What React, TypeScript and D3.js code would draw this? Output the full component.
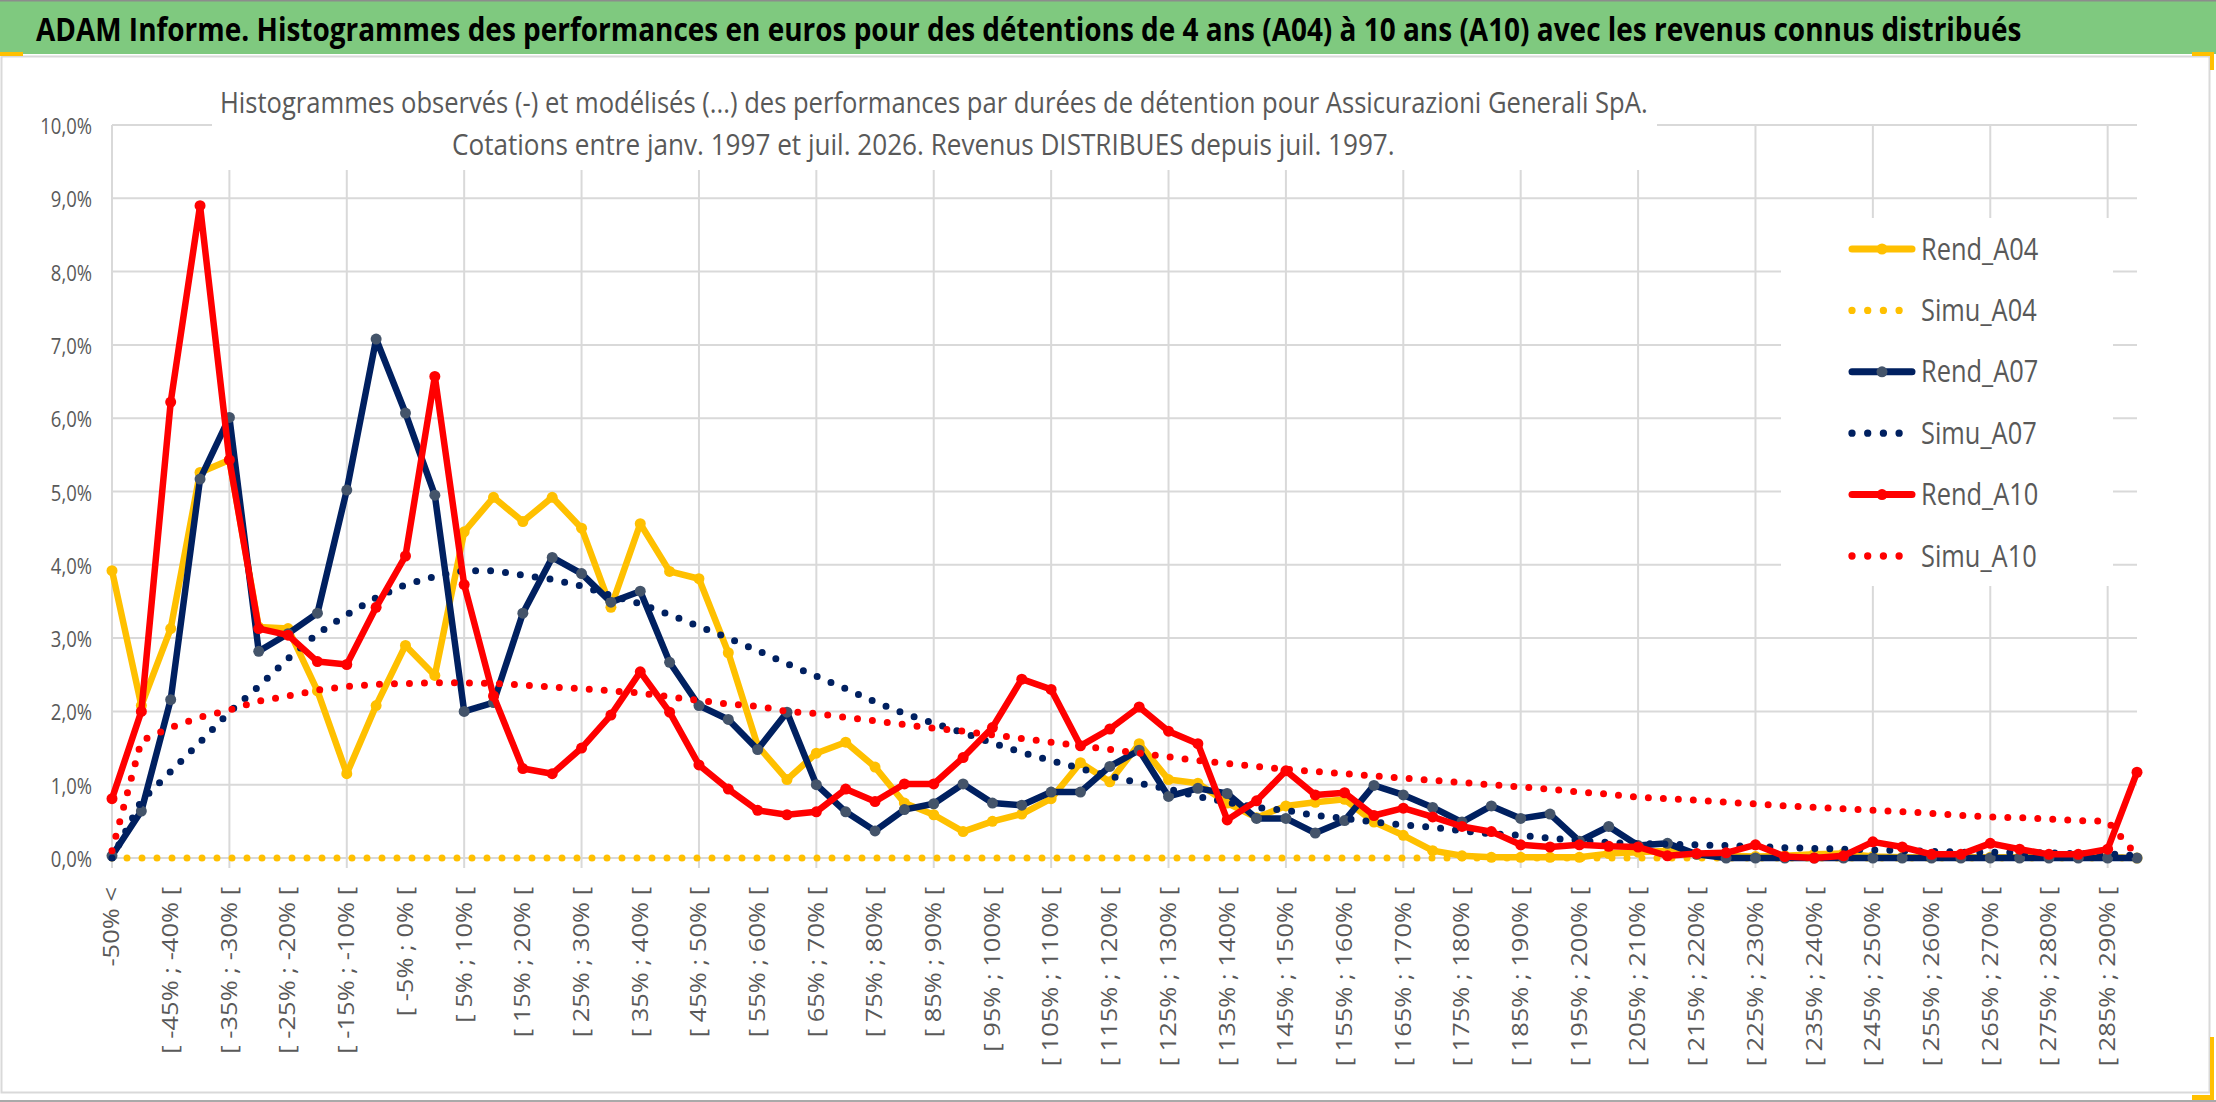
import { useLayoutEffect, useRef, useState } from "react";
import * as d3 from "d3";

const categories = [
  "-50% <", "[ -50% ; -45% [", "[ -45% ; -40% [", "[ -40% ; -35% [", "[ -35% ; -30% [",
  "[ -30% ; -25% [", "[ -25% ; -20% [", "[ -20% ; -15% [", "[ -15% ; -10% [", "[ -10% ; -5% [",
  "[ -5% ; 0% [", "[ 0% ; 5% [", "[ 5% ; 10% [", "[ 10% ; 15% [", "[ 15% ; 20% [",
  "[ 20% ; 25% [", "[ 25% ; 30% [", "[ 30% ; 35% [", "[ 35% ; 40% [", "[ 40% ; 45% [",
  "[ 45% ; 50% [", "[ 50% ; 55% [", "[ 55% ; 60% [", "[ 60% ; 65% [", "[ 65% ; 70% [",
  "[ 70% ; 75% [", "[ 75% ; 80% [", "[ 80% ; 85% [", "[ 85% ; 90% [", "[ 90% ; 95% [",
  "[ 95% ; 100% [", "[ 100% ; 105% [", "[ 105% ; 110% [", "[ 110% ; 115% [", "[ 115% ; 120% [",
  "[ 120% ; 125% [", "[ 125% ; 130% [", "[ 130% ; 135% [", "[ 135% ; 140% [", "[ 140% ; 145% [",
  "[ 145% ; 150% [", "[ 150% ; 155% [", "[ 155% ; 160% [", "[ 160% ; 165% [", "[ 165% ; 170% [",
  "[ 170% ; 175% [", "[ 175% ; 180% [", "[ 180% ; 185% [", "[ 185% ; 190% [", "[ 190% ; 195% [",
  "[ 195% ; 200% [", "[ 200% ; 205% [", "[ 205% ; 210% [", "[ 210% ; 215% [", "[ 215% ; 220% [",
  "[ 220% ; 225% [", "[ 225% ; 230% [", "[ 230% ; 235% [", "[ 235% ; 240% [", "[ 240% ; 245% [",
  "[ 245% ; 250% [", "[ 250% ; 255% [", "[ 255% ; 260% [", "[ 260% ; 265% [", "[ 265% ; 270% [",
  "[ 270% ; 275% [", "[ 275% ; 280% [", "[ 280% ; 285% [", "[ 285% ; 290% [", "[ 290% ; 295% [",
];

// values in %
const rendA04 = [
  3.92, 2.08, 3.13, 5.26, 5.43, 3.15, 3.13, 2.28, 1.15, 2.08,
  2.9, 2.49, 4.45, 4.92, 4.59, 4.92, 4.5, 3.42, 4.56, 3.91,
  3.81, 2.8, 1.53, 1.07, 1.43, 1.58, 1.24, 0.75, 0.59, 0.36,
  0.5, 0.6, 0.81, 1.3, 1.04, 1.56, 1.07, 1.02, 0.75, 0.55,
  0.71, 0.76, 0.8, 0.49, 0.31, 0.1, 0.03, 0.01, 0.01, 0.01,
  0.01, 0.06, 0.08, 0.1, 0.05, 0.03, 0.02, 0.03, 0.05, 0.06,
  0.02, 0.01, 0.01, 0.01, 0.01, 0.01, 0.01, 0.01, 0.01, 0.0,
];

const simuA04 = [
  0, 0, 0, 0, 0, 0, 0, 0, 0, 0,
  0, 0, 0, 0, 0, 0, 0, 0, 0, 0,
  0, 0, 0, 0, 0, 0, 0, 0, 0, 0,
  0, 0, 0, 0, 0, 0, 0, 0, 0, 0,
  0, 0, 0, 0, 0, 0, 0, 0, 0, 0,
  0, 0, 0, 0, 0, 0, 0, 0, 0, 0,
  0, 0, 0, 0, 0, 0, 0, 0, 0, 0,
];

const rendA07 = [
  0.03, 0.64, 2.16, 5.17, 6.01, 2.82, 3.06, 3.34, 5.02, 7.08,
  6.07, 4.95, 2.0, 2.12, 3.34, 4.1, 3.88, 3.49, 3.64, 2.67,
  2.08, 1.89, 1.48, 1.99, 1.0, 0.63, 0.37, 0.66, 0.74, 1.01,
  0.75, 0.72, 0.9, 0.9, 1.25, 1.47, 0.84, 0.95, 0.88, 0.54,
  0.54, 0.34, 0.51, 0.99, 0.86, 0.69, 0.49, 0.71, 0.54, 0.6,
  0.23, 0.43, 0.17, 0.2, 0.05, 0.0, 0.0, 0.0, 0.0, 0.0,
  0.0, 0.0, 0.0, 0.0, 0.0, 0.0, 0.0, 0.0, 0.0, 0.0,
];

const simuA07 = [
  0.0, 0.78, 1.18, 1.58, 1.99, 2.34, 2.72, 3.06, 3.32, 3.55,
  3.73, 3.84, 3.92, 3.92, 3.86, 3.8, 3.71, 3.58, 3.47, 3.32,
  3.16, 3.0, 2.83, 2.65, 2.48, 2.31, 2.13, 1.97, 1.84, 1.71,
  1.57, 1.44, 1.33, 1.22, 1.12, 1.02, 0.94, 0.84, 0.76, 0.69,
  0.65, 0.58, 0.54, 0.49, 0.45, 0.42, 0.37, 0.33, 0.31, 0.27,
  0.24, 0.21, 0.2, 0.19, 0.18, 0.17, 0.16, 0.14, 0.13, 0.12,
  0.11, 0.1, 0.09, 0.08, 0.08, 0.07, 0.07, 0.06, 0.06, 0.03,
];

const rendA10 = [
  0.81, 2.0, 6.22, 8.9, 5.43, 3.13, 3.04, 2.68, 2.64, 3.42,
  4.12, 6.57, 3.73, 2.21, 1.22, 1.15, 1.5, 1.95, 2.54, 1.99,
  1.27, 0.94, 0.65, 0.59, 0.63, 0.94, 0.77, 1.01, 1.01, 1.37,
  1.78, 2.44, 2.3, 1.53, 1.76, 2.06, 1.73, 1.56, 0.52, 0.78,
  1.19, 0.86, 0.89, 0.58, 0.68, 0.56, 0.43, 0.36, 0.18, 0.15,
  0.18, 0.16, 0.15, 0.03, 0.06, 0.07, 0.18, 0.02, 0.0, 0.03,
  0.22, 0.15, 0.05, 0.05, 0.2, 0.12, 0.05, 0.05, 0.12, 1.17,
];

const simuA10 = [
  0.1, 1.6, 1.78, 1.92, 2.02, 2.14, 2.21, 2.29, 2.34, 2.37,
  2.38, 2.39, 2.39, 2.38, 2.36, 2.33, 2.31, 2.28, 2.25, 2.2,
  2.15, 2.1, 2.07, 2.0, 1.97, 1.92, 1.87, 1.82, 1.77, 1.73,
  1.68, 1.63, 1.58, 1.53, 1.48, 1.43, 1.38, 1.33, 1.29, 1.25,
  1.21, 1.18, 1.15, 1.12, 1.09, 1.06, 1.03, 1.0, 0.97, 0.94,
  0.9, 0.87, 0.83, 0.81, 0.79, 0.76, 0.74, 0.71, 0.69, 0.67,
  0.65, 0.63, 0.61, 0.58, 0.56, 0.55, 0.53, 0.51, 0.5, 0.03,
];

const yTicks = [0, 1, 2, 3, 4, 5, 6, 7, 8, 9, 10];

const series = [
  { name: "Rend_A04", values: rendA04, color: "#FFC000", marker: "#FFC000", dotted: false },
  { name: "Simu_A04", values: simuA04, color: "#FFC000", marker: null, dotted: true },
  { name: "Rend_A07", values: rendA07, color: "#002060", marker: "#44546A", dotted: false },
  { name: "Simu_A07", values: simuA07, color: "#002060", marker: null, dotted: true },
  { name: "Rend_A10", values: rendA10, color: "#FF0000", marker: "#FF0000", dotted: false },
  { name: "Simu_A10", values: simuA10, color: "#FF0000", marker: null, dotted: true },
];

const W = 2216;
const H = 1102;
const plot = { left: 112, right: 2137, top: 125, bottom: 858 };
const grey = "#595959";
const gridColor = "#D9D9D9";
const font = "'Open Sans', sans-serif";

// squeezes a single line of text horizontally so it spans `width` px
function FitText({ x, y, width, size, weight = 400, fill, children }: any) {
  const ref = useRef<SVGTextElement>(null);
  const [k, setK] = useState(0.8);
  useLayoutEffect(() => {
    const len = ref.current?.getComputedTextLength() ?? 0;
    if (len > 0) setK(width / len);
  }, [width, children]);
  return (
    <text ref={ref} transform={`translate(${x},${y}) scale(${k},1)`} fontSize={size} fontWeight={weight} fill={fill}>
      {children}
    </text>
  );
}

export default function App() {
  const x = d3.scalePoint<string>().domain(categories).range([plot.left, plot.right]);
  const y = d3.scaleLinear().domain([0, 10]).range([plot.bottom, plot.top]);
  const line = d3
    .line<number>()
    .x((_, i) => x(categories[i]) ?? 0)
    .y((d) => y(d));

  const fmt = (v: number) => v.toFixed(1).replace(".", ",") + "%";

  return (
    <svg
      width={W}
      height={H}
      style={{ position: "absolute", left: 0, top: 0, background: "#fff" }}
      fontFamily={font}
    >
      <rect x={0} y={0} width={W} height={H} fill="#fff" />
      {/* header band */}
      <rect x={0} y={0} width={W} height={54} fill="#7FC97F" />
      <line x1={0} x2={W} y1={0.8} y2={0.8} stroke="#8c8c8c" strokeWidth={1.6} />
      <FitText x={36} y={41} width={1985} size={33} weight={700} fill="#000">
        ADAM Informe. Histogrammes des performances en euros pour des détentions de 4 ans (A04) à 10 ans (A10) avec les revenus connus distribués
      </FitText>

      {/* chart frame */}
      <rect x={1.5} y={56.5} width={2208} height={1036} fill="none" stroke={gridColor} strokeWidth={2} />
      <line x1={0} x2={W} y1={1101} y2={1101} stroke="#8c8c8c" strokeWidth={1.6} />
      <rect x={0} y={52} width={23} height={4} fill="#FFC000" />
      <rect x={2192} y={52} width={22} height={4} fill="#FFC000" />
      <rect x={2210} y={52} width={4} height={18} fill="#FFC000" />
      <rect x={2210} y={1037} width={4} height={63} fill="#FFC000" />
      <rect x={2192} y={1095} width={22} height={5} fill="#FFC000" />

      {/* gridlines */}
      {yTicks.map((t) => (
        <line key={"h" + t} x1={plot.left} x2={plot.right} y1={y(t)} y2={y(t)} stroke={gridColor} strokeWidth={2} />
      ))}
      {categories.map((c, i) =>
        i % 4 === 0 ? (
          <line key={"v" + c} x1={x(c)} x2={x(c)} y1={plot.top} y2={plot.bottom + 10} stroke={gridColor} strokeWidth={2} />
        ) : null
      )}

      {/* y labels */}
      {yTicks.map((t) => (
        <text
          key={"yl" + t}
          transform={`translate(92,${y(t) + 9}) scale(0.84,1)`}
          textAnchor="end"
          fontSize={22}
          fill={grey}
        >
          {fmt(t)}
        </text>
      ))}

      {/* x labels */}
      {categories.map((c, i) =>
        i % 2 === 0 ? (
          <text
            key={"xl" + c}
            transform={`translate(${x(c)},887) scale(0.82,1) rotate(-90)`}
            textAnchor="end"
            dy="0.35em"
            fontSize={25.5}
            fill={grey}
          >
            {c}
          </text>
        ) : null
      )}

      {/* series */}
      {series.map((s) => (
        <g key={s.name}>
          <path
            d={line(s.values) ?? ""}
            fill="none"
            stroke={s.color}
            strokeWidth={s.dotted ? 7 : 6.5}
            strokeLinejoin="round"
            strokeLinecap="round"
            strokeDasharray={s.dotted ? "0 15" : undefined}
          />
          {s.marker &&
            s.values.map((v, i) => (
              <circle key={i} cx={x(categories[i])} cy={y(v)} r={5.5} fill={s.marker} />
            ))}
        </g>
      ))}

      {/* title */}
      <rect x={212} y={64} width={1445} height={106} fill="#fff" />
      <FitText x={220} y={113} width={1428} size={30} fill={grey}>
        Histogrammes observés (-) et modélisés (...) des performances par durées de détention pour Assicurazioni Generali SpA.
      </FitText>
      <FitText x={452} y={155} width={943} size={30} fill={grey}>
        Cotations entre janv. 1997 et juil. 2026. Revenus DISTRIBUES depuis juil. 1997.
      </FitText>

      {/* legend */}
      <rect x={1781} y={218} width={332} height={368} fill="#fff" />
      {series.map((s, i) => {
        const ly = 249 + i * 61.4;
        return (
          <g key={"lg" + s.name}>
            {s.dotted ? (
              <line
                x1={1852}
                x2={s.name === "Simu_A10" ? 1914 : 1900}
                y1={ly}
                y2={ly}
                stroke={s.color}
                strokeWidth={7.3}
                strokeLinecap="round"
                strokeDasharray="0 15.7"
              />
            ) : (
              <>
                <line x1={1852} x2={1912} y1={ly} y2={ly} stroke={s.color} strokeWidth={7} strokeLinecap="round" />
                <circle cx={1882} cy={ly} r={5.5} fill={s.marker ?? s.color} />
              </>
            )}
            <text transform={`translate(1921,${ly + 10.5}) scale(0.82,1)`} fontSize={31} fill={grey}>
              {s.name}
            </text>
          </g>
        );
      })}
    </svg>
  );
}
